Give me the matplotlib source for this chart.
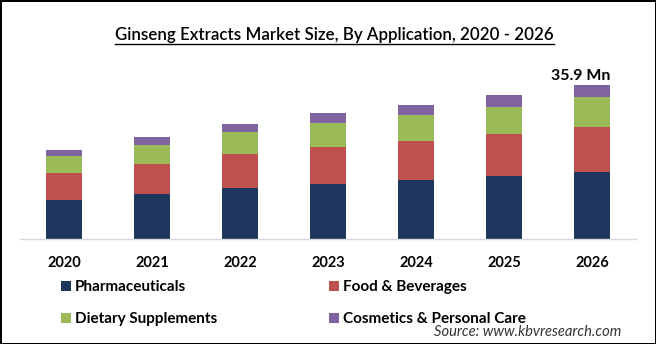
import numpy as np
import matplotlib
matplotlib.use("Agg")
import matplotlib.pyplot as plt
from matplotlib.lines import Line2D

plt.rcParams["font.family"] = ["Lato", "DejaVu Sans"]

# --- data (Mn USD) ---------------------------------------------------------
years = ["2020", "2021", "2022", "2023", "2024", "2025", "2026"]
pharma = [9.09, 10.49, 11.89, 12.82, 13.75, 14.69, 15.62]
food = [6.36, 6.99, 7.93, 8.62, 9.09, 9.79, 10.56]
dietary = [3.89, 4.43, 5.13, 5.59, 6.06, 6.29, 6.92]
cosmetics = [1.40, 1.93, 1.86, 2.33, 2.33, 2.80, 2.80]
series_names = ["Pharmaceuticals", "Food & Beverages", "Dietary Supplements",
                "Cosmetics & Personal Care"]
colors = ["#1C365D", "#C0504D", "#9BBB59", "#8064A2"]
last_label = "35.9 Mn"

W, H = 656, 344
fig = plt.figure(figsize=(W / 100, H / 100), dpi=100)
fig.patch.set_facecolor("white")
fig.patch.set_edgecolor("black")
fig.patch.set_linewidth(2.0)

ax = fig.add_axes([20 / W, 1 - 239 / H, 616 / W, 179 / H])
x = np.arange(len(years))
bottom = np.zeros(len(years))
bars = []
for vals, c in zip([pharma, food, dietary, cosmetics], colors):
    b = ax.bar(x, vals, width=0.4, bottom=bottom, color=c, linewidth=0)
    bars.append(b)
    bottom += np.array(vals)

ax.set_xlim(-0.5, len(years) - 0.5)
ax.set_ylim(0, 41.7)
ax.set_yticks([])
for s in ["top", "left", "right"]:
    ax.spines[s].set_visible(False)
ax.spines["bottom"].set_color("#D9D9D9")
ax.spines["bottom"].set_linewidth(1.0)
ax.set_xticks(x)
ax.set_xticklabels(years, fontsize=10.5, fontweight="bold", color="black")
ax.tick_params(axis="x", length=0, pad=12)

ax.annotate(last_label, (x[-1], bottom[-1]), xytext=(-8, 1.5), textcoords="offset points",
            ha="center", va="bottom", fontsize=11.5, fontweight="bold")

# title with underline
title = fig.text(334.5 / W, 1 - 35 / H, "Ginseng Extracts Market Size, By Application, 2020 - 2026",
                 ha="center", va="center", fontsize=12.2, fontweight="semibold")

# legends: two single-column blocks
leg_kw = dict(frameon=False, prop={"weight": "bold", "size": 11},
              handlelength=0.65, handleheight=0.65, handletextpad=0.25,
              labelspacing=1.2, borderpad=0, borderaxespad=0, loc="upper left")
leg1 = fig.legend([bars[0], bars[2]], [series_names[0], series_names[2]],
                  bbox_to_anchor=(61 / W, 1 - 280 / H), **leg_kw)
leg2 = fig.legend([bars[1], bars[3]], [series_names[1], series_names[3]],
                  bbox_to_anchor=(329 / W, 1 - 280 / H), **leg_kw)

fig.text(621 / W, 1 - 332 / H, "Source: www.kbvresearch.com", ha="right", va="center",
         fontsize=10.6, style="italic", color="#333333")

fig.canvas.draw()
bb = title.get_window_extent()
uy = bb.y0 - 1
fig.add_artist(Line2D([bb.x0 / W, bb.x1 / W], [uy / H, uy / H], color="black", lw=1.0,
                      transform=fig.transFigure))

fig.savefig("out.png", dpi=100, facecolor=fig.get_facecolor(), edgecolor=fig.get_edgecolor())
